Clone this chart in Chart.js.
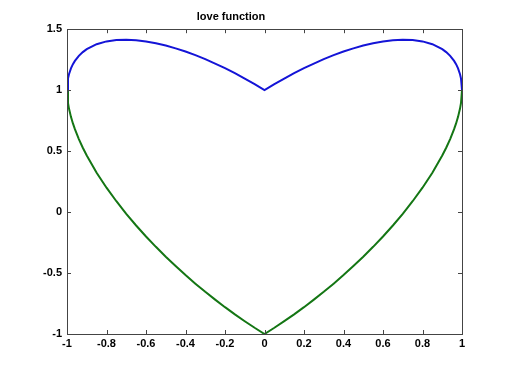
<!DOCTYPE html>
<html>
<head>
<meta charset="utf-8">
<script src="https://cdn.jsdelivr.net/npm/chart.js@4/dist/chart.umd.min.js"></script>
<style>
  body { margin: 0; background: #fff; }
  canvas { display: block; }
</style>
</head>
<body>
<canvas id="loveChart" width="510" height="376"></canvas>
<script>
// x positions (denser near the steep edges)
const xValues = [-1, -0.995, -0.99, -0.98, -0.97, -0.96, -0.94, -0.92, -0.9, -0.85,
  -0.8, -0.75, -0.7, -0.65, -0.6, -0.55, -0.5, -0.45, -0.4, -0.35,
  -0.3, -0.25, -0.2, -0.15, -0.1, -0.05, 0,
  0.05, 0.1, 0.15, 0.2, 0.25, 0.3, 0.35, 0.4, 0.45, 0.5,
  0.55, 0.6, 0.65, 0.7, 0.75, 0.8, 0.85, 0.9, 0.92, 0.94,
  0.96, 0.97, 0.98, 0.99, 0.995, 1];

// upper half of the heart (blue)
const upperValues = [1.000, 1.095, 1.131, 1.179, 1.213, 1.240, 1.281, 1.312, 1.336, 1.377,
  1.400, 1.411, 1.414, 1.410, 1.400, 1.385, 1.366, 1.343, 1.317, 1.287,
  1.254, 1.218, 1.180, 1.139, 1.095, 1.049, 1.000,
  1.049, 1.095, 1.139, 1.180, 1.218, 1.254, 1.287, 1.317, 1.343, 1.366,
  1.385, 1.400, 1.410, 1.414, 1.411, 1.400, 1.377, 1.336, 1.312, 1.281,
  1.240, 1.213, 1.179, 1.131, 1.095, 1.000];

// lower half of the heart (green)
const lowerValues = [1.000, 0.895, 0.849, 0.781, 0.727, 0.680, 0.599, 0.528, 0.464, 0.323,
  0.200, 0.089, -0.014, -0.110, -0.200, -0.285, -0.366, -0.443, -0.517, -0.587,
  -0.654, -0.718, -0.780, -0.839, -0.895, -0.949, -1.000,
  -0.949, -0.895, -0.839, -0.780, -0.718, -0.654, -0.587, -0.517, -0.443, -0.366,
  -0.285, -0.200, -0.110, -0.014, 0.089, 0.200, 0.323, 0.464, 0.528, 0.599,
  0.680, 0.727, 0.781, 0.849, 0.895, 1.000];

const xTicks = [-1, -0.8, -0.6, -0.4, -0.2, 0, 0.2, 0.4, 0.6, 0.8, 1];
const yTicks = [-1, -0.5, 0, 0.5, 1, 1.5];

const toPoints = ys => xValues.map((x, i) => ({ x: x, y: ys[i] }));
const tickLabel = v => String(Math.round(v * 10) / 10);

// MATLAB style box with inward tick marks
const boxTicks = {
  id: 'boxTicks',
  afterDraw(chart) {
    const ctx = chart.ctx;
    const a = chart.chartArea;
    const xs = chart.scales.x, ys = chart.scales.y;
    ctx.save();
    ctx.strokeStyle = '#444';
    ctx.lineWidth = 1;
    ctx.strokeRect(Math.round(a.left) + 0.5, Math.round(a.top) + 0.5,
      Math.round(a.right - a.left), Math.round(a.bottom - a.top));
    ctx.beginPath();
    xTicks.forEach(v => {
      const px = Math.round(xs.getPixelForValue(v)) + 0.5;
      ctx.moveTo(px, a.bottom); ctx.lineTo(px, a.bottom - 4);
      ctx.moveTo(px, a.top); ctx.lineTo(px, a.top + 4);
    });
    yTicks.forEach(v => {
      const py = Math.round(ys.getPixelForValue(v)) + 0.5;
      ctx.moveTo(a.left, py); ctx.lineTo(a.left + 4, py);
      ctx.moveTo(a.right, py); ctx.lineTo(a.right - 4, py);
    });
    ctx.stroke();
    ctx.restore();
  }
};

const tickFont = { family: 'Liberation Sans, Arial, sans-serif', size: 11, weight: 'bold' };

new Chart(document.getElementById('loveChart'), {
  type: 'scatter',
  data: {
    datasets: [
      {
        data: toPoints(upperValues),
        showLine: true,
        borderColor: 'rgb(20,20,215)',
        borderWidth: 2,
        pointRadius: 0,
        tension: 0
      },
      {
        data: toPoints(lowerValues),
        showLine: true,
        borderColor: 'rgb(20,118,20)',
        borderWidth: 2,
        pointRadius: 0,
        tension: 0
      }
    ]
  },
  options: {
    responsive: false,
    animation: false,
    layout: { padding: { left: 0, right: 48, top: 0, bottom: 0 } },
    plugins: {
      legend: { display: false },
      tooltip: { enabled: false },
      title: {
        display: true,
        text: 'love function',
        color: '#000',
        font: { family: 'Liberation Sans, Arial, sans-serif', size: 11, weight: 'bold' },
        padding: { top: 10, bottom: 6 }
      }
    },
    scales: {
      x: {
        type: 'linear',
        min: -1,
        max: 1,
        afterBuildTicks: s => { s.ticks = xTicks.map(v => ({ value: v })); },
        afterFit: s => { s.height = 42; },
        grid: { display: false, drawTicks: false, tickLength: 0 },
        border: { display: false },
        ticks: { color: '#000', font: tickFont, padding: 3, autoSkip: false, maxRotation: 0, callback: tickLabel }
      },
      y: {
        type: 'linear',
        min: -1,
        max: 1.5,
        afterBuildTicks: s => { s.ticks = yTicks.map(v => ({ value: v })); },
        afterFit: s => { s.width = 67; },
        grid: { display: false, drawTicks: false, tickLength: 0 },
        border: { display: false },
        ticks: { color: '#000', font: tickFont, padding: 5, autoSkip: false, callback: tickLabel }
      }
    }
  },
  plugins: [boxTicks]
});
</script>
</body>
</html>
